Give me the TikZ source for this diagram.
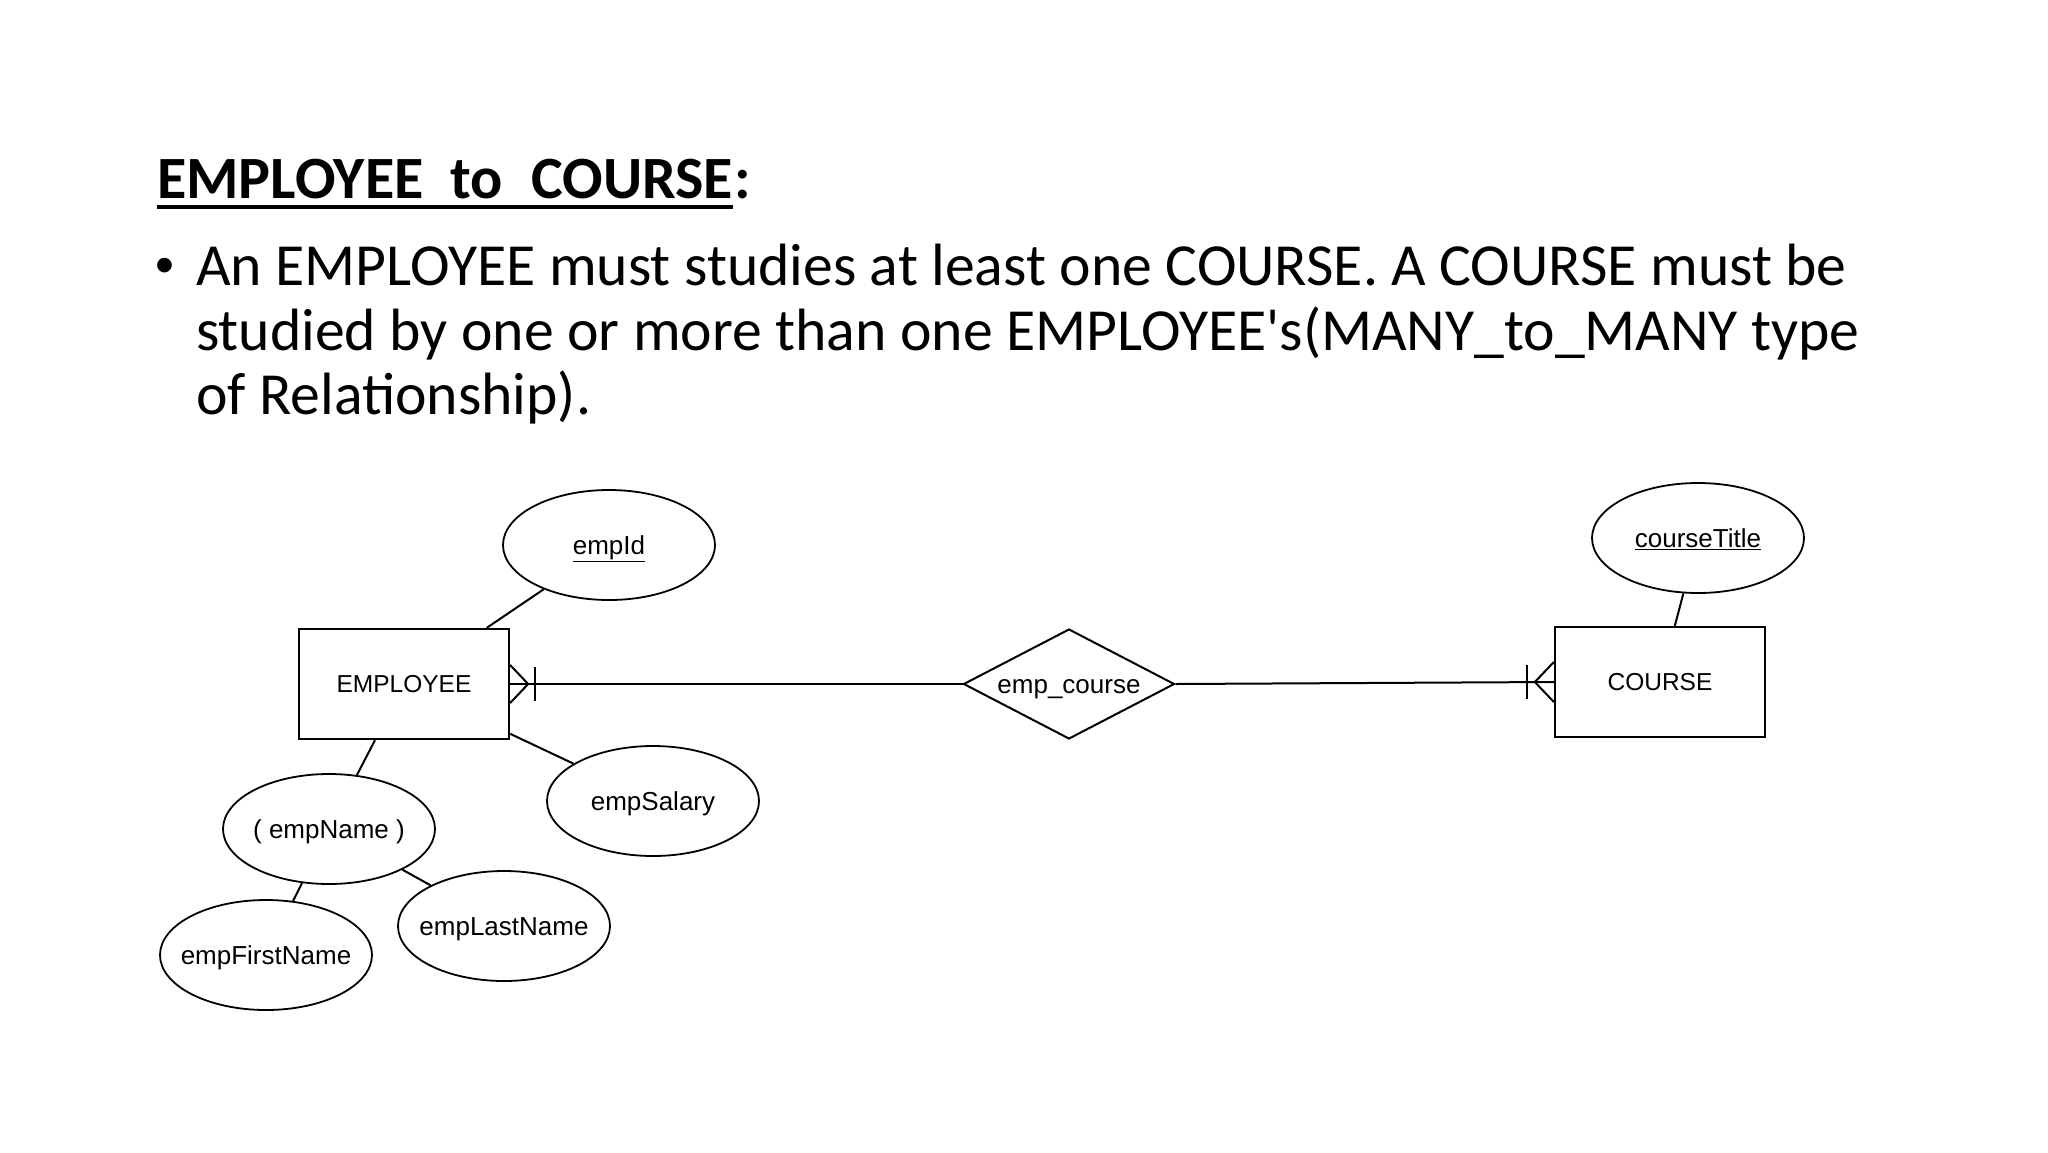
\documentclass[tikz,border=0pt]{standalone}
\usepackage{fontspec}
\setmainfont{Carlito}
\newfontfamily\arialf{Liberation Sans}
\usetikzlibrary{shapes.geometric}
\begin{document}
\begin{tikzpicture}[x=1pt,y=-1pt,
  ln/.style={line width=2pt},
  ent/.style={draw, line width=2.3pt, rectangle, minimum width=210pt, minimum height=110pt, inner sep=0pt, text height=17.5pt, text depth=0pt, font=\arialf\fontsize{24.5}{28}\selectfont},
  attr/.style={draw, line width=1.8pt, ellipse, minimum width=212pt, minimum height=110pt, inner sep=0pt},
  lbl/.style={inner sep=0pt, text height=18.6pt, text depth=0pt, font=\arialf\fontsize{26}{30}\selectfont},
  relsh/.style={draw, line width=2pt, diamond, aspect=1.92, minimum width=211pt, minimum height=110pt, inner sep=0pt, text height=18.6pt, text depth=0pt, font=\arialf\fontsize{26}{30}\selectfont},
  bodytxt/.style={anchor=base west, inner sep=0pt, font=\fontsize{59.7}{66}\selectfont},
  titletxt/.style={anchor=base west, inner sep=0pt, font=\bfseries\fontsize{60}{66}\selectfont}]
\path[use as bounding box, fill=white] (0,0) rectangle (2048,1152);

% title
\node[titletxt] (t1) at (157,198) {EMPLOYEE};
\node[titletxt] (t2) at (450,198) {to};
\node[titletxt] (t3) at (531,198) {COURSE};
\node[titletxt] (colon) at ([xshift=1pt]t3.base east) {:};
\draw[line width=4pt] ([yshift=-9pt]t1.base west) -- ([yshift=-9pt]t3.base east);

% bullet text
\node[bodytxt, font=\arialf\fontsize{54}{60}\selectfont] (bullet) at (155,283) {\textbullet};
\node[bodytxt] (l1) at (196,285) {An EMPLOYEE must studies at least one COURSE. A COURSE must be};
\node[bodytxt] (l2) at (196,350) {studied by one or more than one EMPLOYEE\textquotesingle s(MANY\_to\_MANY type};
\node[bodytxt] (l3) at (196,414) {of Relationship).};

% diagram nodes
\node[ent] (emp) at (404,684) {EMPLOYEE};
\node[ent] (course) at (1660,682) {COURSE};
\node[relsh] (rel) at (1069,684) {emp\_course};
\node[attr, label={[lbl]center:\underline{empId}}] (empid) at (609,545) {};
\node[attr, label={[lbl]center:\underline{courseTitle}}] (ctitle) at (1698,538) {};
\node[attr, label={[lbl]center:empSalary}] (esal) at (653,801) {};
\node[attr, label={[lbl]center:( empName )}] (ename) at (329,829) {};
\node[attr, label={[lbl]center:empFirstName}] (efirst) at (266,955) {};
\node[attr, label={[lbl]center:empLastName}] (elast) at (504,926) {};

% attribute links
\draw[ln] (emp) -- (empid);
\draw[ln] (emp) -- (esal);
\draw[ln] (emp) -- (ename);
\draw[ln] (ename) -- (efirst);
\draw[ln] (ename) -- (elast);
\draw[ln] (course) -- (ctitle);

% relationship links
\draw[ln] (emp.east) -- (rel.west);
\draw[ln] (rel.east) -- (course.west);

% crow's foot at EMPLOYEE
\draw[ln] ([yshift=19pt]emp.east) -- ([xshift=18pt]emp.east) -- ([yshift=-19pt]emp.east);
\draw[ln] ([xshift=25pt,yshift=17pt]emp.east) -- ([xshift=25pt,yshift=-17pt]emp.east);

% crow's foot at COURSE
\draw[ln] ([yshift=20pt]course.west) -- ([xshift=-19pt]course.west) -- ([yshift=-20pt]course.west);
\draw[ln] ([xshift=-27pt,yshift=17pt]course.west) -- ([xshift=-27pt,yshift=-17pt]course.west);
\end{tikzpicture}
\end{document}
